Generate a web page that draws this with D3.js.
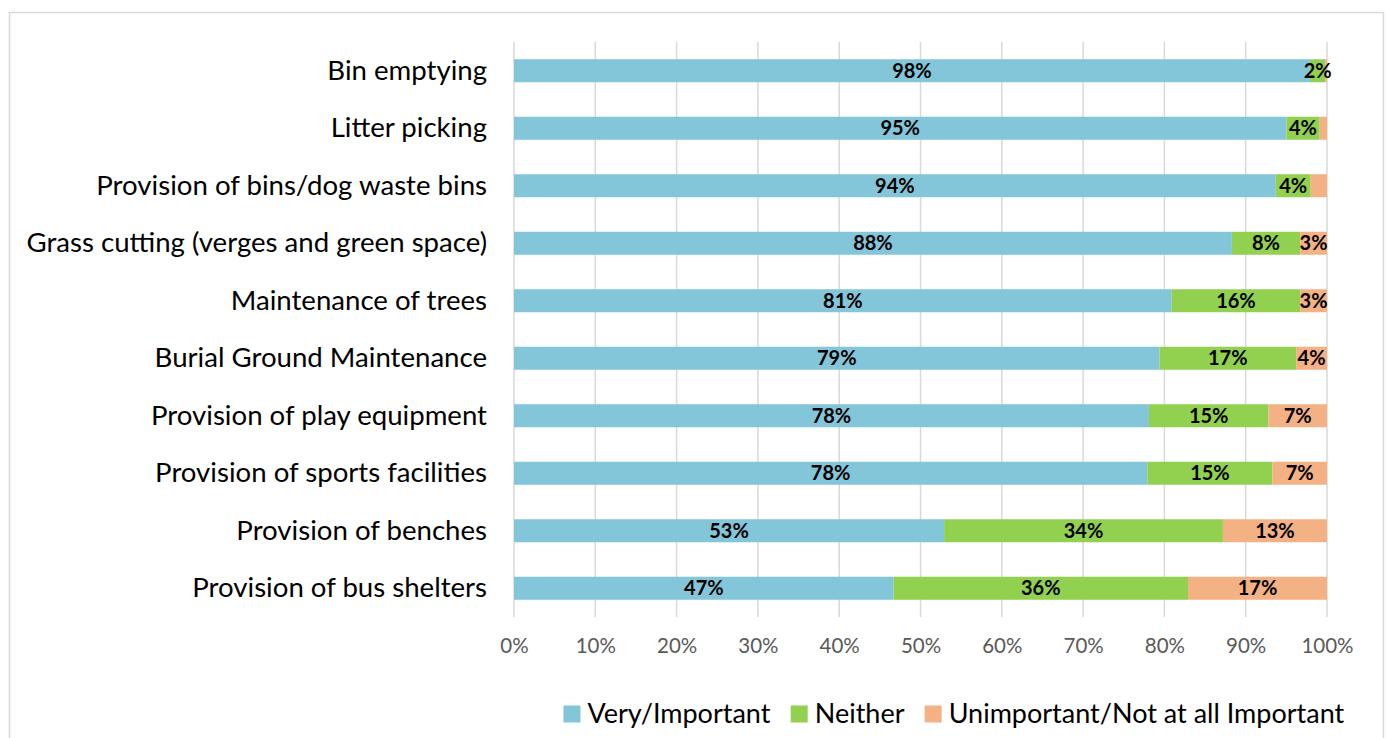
<!DOCTYPE html>
<html>
<head>
<meta charset="utf-8">
<script src="https://cdn.jsdelivr.net/npm/d3@7"></script>
<style>
  html, body { margin: 0; padding: 0; background: #fff; }
  svg { display: block; font-family: Lato, "Open Sans", sans-serif; }
</style>
</head>
<body>
<svg id="chart" width="1388" height="738"></svg>
<script>
// Survey: importance of each council service (share of respondents)
const categories = [
  "Bin emptying",
  "Litter picking",
  "Provision of bins/dog waste bins",
  "Grass cutting (verges and green space)",
  "Maintenance of trees",
  "Burial Ground Maintenance",
  "Provision of play equipment",
  "Provision of sports facilities",
  "Provision of benches",
  "Provision of bus shelters"
];
const veryImportant = [97.9, 95.0, 93.7, 88.3, 80.9, 79.4, 78.1, 77.9, 52.9, 46.7];
const neither       = [ 1.9,  4.1,  4.3,  8.4, 15.8, 16.8, 14.7, 15.4, 34.3, 36.2];
const unimportant   = [ 0.2,  0.9,  2.0,  3.3,  3.3,  3.8,  7.2,  6.7, 12.8, 17.1];
const seriesNames = ["Very/Important", "Neither", "Unimportant/Not at all Important"];
const seriesColors = ["#83C5D9", "#92D050", "#F4B183"];
const tickValues = [0, 10, 20, 30, 40, 50, 60, 70, 80, 90, 100];
// smallest segment (per series) that still carries a value label
const labelMinimum = [0, 1.5, 2.5];

const svg = d3.select("#chart");

// outer chart frame
svg.append("rect")
  .attr("x", 9.5).attr("y", 12.5)
  .attr("width", 1374).attr("height", 760)
  .attr("fill", "none").attr("stroke", "#D9D9D9").attr("stroke-width", 1.5);

const x = d3.scaleLinear().domain([0, 100]).range([514, 1327]);
const y = d3.scaleBand().domain(categories).range([42, 617])
  .paddingInner(0.6).paddingOuter(0.3);

// vertical gridlines
svg.append("g")
  .selectAll("line")
  .data(tickValues)
  .join("line")
  .attr("x1", d => x(d)).attr("x2", d => x(d))
  .attr("y1", 42).attr("y2", 617)
  .attr("stroke", "#D9D9D9").attr("stroke-width", 1.5);

// x axis tick labels
const xAxis = d3.axisBottom(x).tickValues(tickValues)
  .tickFormat(d => d + "%").tickSize(0).tickPadding(0);
const gx = svg.append("g").attr("transform", "translate(0,638)").call(xAxis);
gx.select(".domain").remove();
gx.selectAll("text")
  .attr("fill", "#595959")
  .style("font-family", "Lato, sans-serif")
  .style("font-size", "20.5px");

// category labels
const yAxis = d3.axisLeft(y).tickSize(0).tickPadding(0);
const gy = svg.append("g").attr("transform", "translate(487,0)").call(yAxis);
gy.select(".domain").remove();
gy.selectAll("text")
  .attr("fill", "#000")
  .style("font-family", "Lato, sans-serif")
  .style("font-size", "27.6px");

// stacked data
const rows = categories.map((c, i) => ({
  category: c,
  values: [veryImportant[i], neither[i], unimportant[i]]
}));
const segments = [];
rows.forEach(r => {
  let start = 0;
  r.values.forEach((v, s) => {
    segments.push({ category: r.category, series: s, x0: start, x1: start + v, value: v });
    start += v;
  });
});

svg.append("g")
  .selectAll("rect")
  .data(segments)
  .join("rect")
  .attr("x", d => x(d.x0))
  .attr("y", d => y(d.category))
  .attr("width", d => Math.max(0, x(d.x1) - x(d.x0)))
  .attr("height", y.bandwidth())
  .attr("fill", d => seriesColors[d.series]);

// value labels
svg.append("g")
  .selectAll("text")
  .data(segments.filter(d => d.value >= labelMinimum[d.series]))
  .join("text")
  .attr("x", d => (x(d.x0) + x(d.x1)) / 2)
  .attr("y", d => y(d.category) + y.bandwidth() / 2)
  .attr("dy", "0.36em")
  .attr("text-anchor", "middle")
  .attr("fill", "#000")
  .style("font-weight", "bold")
  .style("font-size", "20px")
  .text(d => Math.round(d.value) + "%");

// legend
const legend = svg.append("g");
const items = legend.selectAll("g")
  .data(seriesNames)
  .join("g");
items.append("rect")
  .attr("width", 17).attr("height", 17)
  .attr("y", -8.5)
  .attr("fill", (d, i) => seriesColors[i]);
items.append("text")
  .attr("x", 24)
  .attr("dy", "0.35em")
  .style("font-size", "27px")
  .attr("fill", "#000")
  .text(d => d);
let offset = 0;
const gap = 20;
items.each(function () {
  const w = this.getBBox().width;
  d3.select(this).attr("transform", `translate(${offset},0)`);
  offset += w + gap;
});
const totalWidth = offset - gap;
legend.attr("transform", `translate(${954 - totalWidth / 2},714)`);
</script>
</body>
</html>
